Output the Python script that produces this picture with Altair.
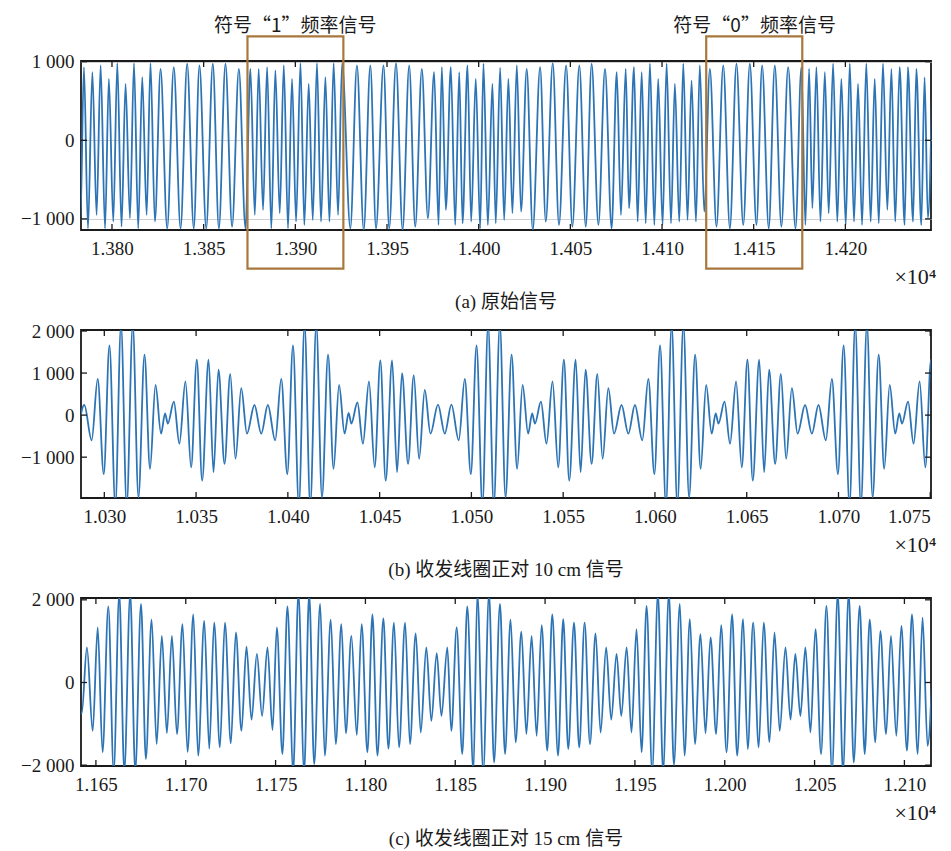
import altair as alt
import pandas as pd

# ---------------- data (sample index, amplitude at local extremes) ----------------
# (a) 原始信号
a_x = [13780.5, 13782.7, 13784.7, 13786.9, 13789.3, 13791.6, 13793.8, 13796.2,
       13798.3, 13800.7, 13802.9, 13805.2, 13807.4, 13809.8, 13812.0, 13814.3,
       13816.5, 13818.9, 13821.0, 13823.4, 13826.5, 13830.1, 13833.7, 13837.4,
       13841.0, 13844.6, 13847.7, 13851.4, 13855.0, 13858.3, 13861.9, 13865.5,
       13869.2, 13872.8, 13875.5, 13877.9, 13880.0, 13882.4, 13884.6, 13886.9,
       13889.1, 13891.5, 13893.7, 13896.0, 13898.2, 13900.4, 13902.8, 13904.9,
       13907.3, 13909.5, 13911.8, 13914.0, 13916.4, 13918.6, 13920.9, 13923.3,
       13925.5, 13930.0, 13933.6, 13937.3, 13940.9, 13944.0, 13948.1, 13951.2,
       13954.9, 13958.5, 13962.1, 13965.4, 13969.0, 13972.3, 13975.7, 13978.1,
       13979.9, 13982.1, 13984.8, 13987.2, 13989.4, 13991.2, 13993.9, 13995.9,
       13998.4, 14000.8, 14002.6, 14005.0, 14007.5, 14009.3, 14011.7, 14013.9,
       14016.2, 14018.4, 14020.8, 14023.1, 14026.2, 14029.5, 14033.5, 14036.6,
       14040.4, 14043.8, 14047.7, 14051.1, 14054.9, 14058.4, 14061.6, 14065.3,
       14068.9, 14072.5, 14075.3, 14077.6, 14080.2, 14082.0, 14084.7, 14086.7,
       14088.9, 14091.1, 14093.4, 14095.8, 14097.9, 14100.3, 14102.5, 14104.9,
       14107.0, 14109.4, 14111.6, 14113.9, 14116.1, 14118.5, 14120.6, 14123.0,
       14126.1, 14129.7, 14133.4, 14137.0, 14140.6, 14144.3, 14147.9, 14151.5,
       14154.6, 14158.2, 14161.5, 14165.1, 14168.8, 14172.8, 14176.0, 14178.2,
       14180.2, 14182.0, 14184.2, 14186.4, 14188.8, 14190.9, 14193.3, 14195.6,
       14197.8, 14200.2, 14202.4, 14204.7, 14206.9, 14209.1, 14211.4, 14213.8,
       14216.0, 14218.2, 14220.5, 14222.9, 14225.1, 14227.2, 14229.6, 14232.3,
       14234.1, 14236.9, 14238.7, 14241.4, 14243.2, 14245.0, 14247.5]
a_y = [900, -1100, 932, -1120, 868, -949, 953, -1120,
       782, -1034, 983, -1098, 718, -991, 983, -1120,
       803, -949, 983, -1034, 910, -1120, 932, -1120,
       974, -1120, 953, -1120, 974, -1120, 974, -1098,
       910, -1120, 910, -949, 910, -885, 932, -1120,
       889, -927, 953, -1120, 782, -1034, 983, -1077,
       718, -1013, 983, -1034, 803, -1034, 983, -949,
       983, -1120, 953, -1141, 953, -1120, 953, -1120,
       983, -1141, 953, -1098, 910, -991, 868, -1077,
       932, -885, 932, -1077, 868, -1055, 953, -1034,
       782, -1120, 974, -1077, 718, -1055, 920, -1013,
       782, -927, 953, -906, 910, -1141, 932, -1034,
       983, -1077, 953, -1098, 953, -1098, 974, -1077,
       910, -1120, 868, -949, 910, -863, 932, -1034,
       868, -1055, 974, -1077, 782, -1077, 974, -1055,
       718, -1034, 974, -1013, 760, -1034, 953, -906,
       910, -1098, 953, -1120, 974, -1077, 974, -1077,
       953, -1120, 953, -1098, 932, -1120, 932, -1077,
       910, -863, 932, -1034, 868, -927, 974, -1034,
       782, -1077, 974, -1034, 718, -1077, 974, -1034,
       782, -1055, 974, -885, 910, -1034, 932, -1077,
       932, -1034, 910, -1077, 800, -991, 900]

# boxes marking one symbol of each frequency in (a)
box_x0 = [13873.9, 14124.1]
box_x1 = [13926.2, 14176.5]
box_top = [1322, 1322]
box_bottom = [-1633, -1633]
box_label = ["符号“1”频率信号", "符号“0”频率信号"]
box_label_x = [13900.0, 14150.5]
box_label_y = [1450, 1450]

# (b) 收发线圈正对 10 cm 信号
b_x = [10285.5, 10289.1, 10293.1,
       10296.4, 10299.7, 10302.8, 10306.0, 10309.1, 10312.2, 10315.5, 10318.6,
       10321.9, 10324.9, 10327.9, 10330.9, 10333.1, 10334.6, 10337.9, 10340.9,
       10344.2, 10347.3, 10350.4, 10353.3, 10356.8, 10359.5, 10362.2, 10365.5,
       10368.6, 10371.5, 10374.6, 10377.7, 10381.8, 10385.5, 10389.1, 10393.1,
       10396.4, 10399.7, 10402.8, 10406.0, 10409.1, 10412.2, 10415.5, 10418.6,
       10421.9, 10424.9, 10427.9, 10430.9, 10433.1, 10434.6, 10437.9, 10440.9,
       10444.2, 10447.3, 10450.4, 10453.3, 10456.8, 10459.5, 10462.2, 10465.5,
       10468.6, 10471.5, 10474.6, 10477.7, 10481.8, 10485.5, 10489.1, 10493.1,
       10496.4, 10499.7, 10502.8, 10506.0, 10509.1, 10512.2, 10515.5, 10518.6,
       10521.9, 10524.9, 10527.9, 10530.9, 10533.1, 10534.6, 10537.9, 10540.9,
       10544.2, 10547.3, 10550.4, 10553.3, 10556.8, 10559.5, 10562.2, 10565.5,
       10568.6, 10571.5, 10574.6, 10577.7, 10581.8, 10585.5, 10589.1, 10593.1,
       10596.4, 10599.7, 10602.8, 10606.0, 10609.1, 10612.2, 10615.5, 10618.6,
       10621.9, 10624.9, 10627.9, 10630.9, 10633.1, 10634.6, 10637.9, 10640.9,
       10644.2, 10647.3, 10650.4, 10653.3, 10656.8, 10659.5, 10662.2, 10665.5,
       10668.6, 10671.5, 10674.6, 10677.7, 10681.8, 10685.5, 10689.1, 10693.1,
       10696.4, 10699.7, 10702.8, 10706.0, 10709.1, 10712.2, 10715.5, 10718.6,
       10721.9, 10724.9, 10727.9, 10730.9, 10733.1, 10734.6, 10737.9, 10740.9,
       10744.2, 10747.3, 10750.4, 10753.3]
b_y = [-440, 240, -600,
       860, -1400, 1660, -2150, 2150, -2150, 2150, -1960,
       1440, -1280, 720, -440, 40, -200, 320, -680,
       800, -1240, 1320, -1560, 1320, -1360, 1080, -1160,
       980, -1040, 640, -440, 240, -440, 240, -600,
       860, -1400, 1660, -2150, 2150, -2150, 2150, -1960,
       1440, -1280, 720, -440, 50, -200, 300, -680,
       800, -1240, 1300, -1560, 1300, -1360, 1000, -1160,
       950, -1040, 600, -440, 250, -440, 250, -600,
       860, -1400, 1660, -2150, 2150, -2150, 2150, -1960,
       1440, -1280, 720, -440, 40, -200, 320, -680,
       800, -1240, 1320, -1560, 1320, -1360, 1080, -1160,
       980, -1040, 640, -440, 240, -440, 240, -600,
       860, -1400, 1660, -2150, 2150, -2150, 2150, -1960,
       1440, -1280, 720, -440, 40, -200, 320, -680,
       800, -1240, 1320, -1560, 1320, -1360, 1080, -1160,
       980, -1040, 640, -440, 240, -440, 240, -600,
       860, -1400, 1660, -2150, 2150, -2150, 2150, -1960,
       1440, -1280, 720, -440, 40, -200, 320, -680,
       800, -1240, 1320, -1560]

# (c) 收发线圈正对 15 cm 信号
c_x = [11639.2, 11642.1, 11645.0, 11648.2, 11651.0, 11653.7, 11656.9, 11659.9,
       11663.0, 11665.8, 11669.1, 11671.9, 11675.1, 11677.8, 11681.0, 11683.8,
       11686.7, 11689.5, 11692.3, 11695.1, 11698.2, 11701.0, 11704.2, 11706.9,
       11710.3, 11713.1, 11715.8, 11719.0, 11721.8, 11725.1, 11727.9, 11731.0,
       11733.8, 11736.6, 11739.6, 11742.5, 11745.5, 11748.3, 11750.7, 11753.8,
       11756.6, 11759.8, 11762.7, 11765.9, 11768.7, 11771.5, 11774.8, 11777.4,
       11780.7, 11783.5, 11786.6, 11789.1, 11792.2, 11795.2, 11797.9, 11801.1,
       11803.9, 11806.7, 11810.0, 11812.8, 11815.9, 11818.7, 11822.1, 11824.8,
       11828.0, 11830.8, 11833.9, 11836.7, 11839.7, 11842.3, 11845.6, 11847.8,
       11850.8, 11853.9, 11856.7, 11860.1, 11862.3, 11865.6, 11868.8, 11871.6,
       11874.9, 11877.7, 11880.8, 11883.6, 11886.8, 11889.6, 11892.5, 11895.3,
       11898.1, 11901.2, 11904.0, 11907.2, 11910.1, 11912.9, 11916.1, 11919.0,
       11922.0, 11925.0, 11928.1, 11930.9, 11934.0, 11936.8, 11939.8, 11942.4,
       11945.4, 11948.1, 11950.9, 11953.7, 11956.5, 11959.6, 11962.8, 11965.7,
       11968.9, 11971.7, 11975.0, 11977.6, 11980.6, 11983.4, 11986.5, 11989.3,
       11992.1, 11995.2, 11998.0, 12001.0, 12004.1, 12006.9, 12010.2, 12012.8,
       12015.8, 12018.9, 12021.7, 12024.9, 12027.7, 12030.6, 12033.8, 12036.6,
       12039.3, 12042.1, 12044.9, 12047.7, 12050.5, 12053.6, 12056.6, 12059.7,
       12062.9, 12065.8, 12069.0, 12071.8, 12075.1, 12077.9, 12080.7, 12083.8,
       12086.6, 12089.8, 12092.5, 12095.5, 12098.3, 12101.4, 12104.2, 12107.4,
       12110.1, 12112.9, 12116.0]
c_y = [700, -750, 850, -1170, 1330, -1690, 1840, -2150,
       2150, -2150, 2150, -2150, 1900, -1850, 1520, -1490,
       1130, -1230, 1130, -1250, 1410, -1680, 1650, -1770,
       1490, -1600, 1450, -1570, 1450, -1470, 1210, -1170,
       870, -900, 690, -810, 850, -1150, 1330, -1730,
       1840, -2150, 2150, -2150, 2150, -1980, 1900, -1770,
       1520, -1490, 1410, -1230, 1130, -1270, 1410, -1690,
       1650, -1770, 1550, -1600, 1450, -1570, 1450, -1490,
       1190, -1210, 850, -930, 710, -810, 850, -1170,
       1330, -1730, 1840, -2150, 2150, -2150, 2150, -1935,
       1900, -1730, 1520, -1450, 1230, -1250, 1130, -1290,
       1390, -1650, 1650, -1770, 1530, -1610, 1450, -1570,
       1450, -1490, 1190, -1210, 850, -900, 690, -810,
       850, -1210, 1290, -1690, 1850, -2150, 2150, -2150,
       2150, -2000, 1900, -1770, 1530, -1490, 1170, -1230,
       1090, -1250, 1390, -1690, 1650, -1770, 1530, -1610,
       1450, -1570, 1450, -1440, 1210, -1170, 850, -900,
       690, -810, 850, -1210, 1290, -1730, 1850, -2150,
       2150, -2150, 2150, -1935, 1850, -1730, 1520, -1450,
       1250, -1250, 1130, -1290, 1370, -1650, 1650, -1730,
       1570, -1530, 800]

# axes
a_xdom = [13783.1, 14246.7]
a_ydom = [-1141, 1009]
a_xticks = [13800, 13850, 13900, 13950, 14000, 14050, 14100, 14150, 14200]
a_yticks = [-1000, 0, 1000]

b_xdom = [10287.3, 10750.4]
b_ydom = [-1971, 2024]
b_xticks = [10300, 10350, 10400, 10450, 10500, 10550, 10600, 10650, 10700, 10750]
b_yticks = [-1000, 0, 1000, 2000]

c_xdom = [11641.7, 12114.8]
c_ydom = [-2020, 2044]
c_xticks = [11650, 11700, 11750, 11800, 11850, 11900, 11950, 12000, 12050, 12100]
c_yticks = [-2000, 0, 2000]

captions = ["(a) 原始信号", "(b) 收发线圈正对 10 cm 信号", "(c) 收发线圈正对 15 cm 信号"]

# ---------------- styling ----------------
SERIF = "Liberation Serif, Noto Sans CJK SC"
CJK = "Noto Sans CJK SC"
BLUE = "#2c74b5"
BROWN = "#a8773c"
INK = "#1a1a1a"
W = 850
YEXPR = ("datum.value == 0 ? '0' : (datum.value < 0 ? '\u2212' : '') + "
         "replace(format(abs(datum.value), ','), ',', ' ')")


def panel(xs, ys, xdom, ydom, xticks, yticks, h, caption, grid=False, extra=None, title_offset=4):
    df = pd.DataFrame({"x": xs, "y": ys})
    xscale = alt.Scale(domain=xdom, nice=False, zero=False)
    yscale = alt.Scale(domain=ydom, nice=False, zero=False)
    xaxis = alt.Axis(
        values=xticks, labelExpr="format(datum.value / 10000, '.3f')",
        ticks=False, domain=False, grid=False, labelPadding=9, labelFlush=True,
        title="×10⁴", titleX=W + 5, titleY=46, titleAlign="right",
        titleBaseline="middle", titleFont=SERIF, titleFontSize=22,
        titleFontWeight="normal", titleColor=INK)
    yaxis = alt.Axis(
        values=yticks, labelExpr=YEXPR, ticks=False, domain=False,
        grid=grid, gridColor="#cfcfcf", gridWidth=1, labelPadding=7, title=None)

    def X(f):
        return alt.X(f, scale=xscale, axis=xaxis)

    def Y(f):
        return alt.Y(f, scale=yscale, axis=yaxis)

    line = alt.Chart(df).mark_line(
        interpolate="monotone", clip=True, color=BLUE, strokeWidth=1.8
    ).encode(x=X("x:Q"), y=Y("y:Q"))
    tx = pd.DataFrame({"x": xticks})
    ty = pd.DataFrame({"y": yticks})
    rule = dict(color=INK, strokeWidth=1.3)
    bottom = alt.Chart(tx).mark_rule(**rule).encode(x=X("x:Q"), y=alt.value(h), y2=alt.value(h - 6))
    top = alt.Chart(tx).mark_rule(**rule).encode(x=X("x:Q"), y=alt.value(0), y2=alt.value(6))
    left = alt.Chart(ty).mark_rule(**rule).encode(y=Y("y:Q"), x=alt.value(0), x2=alt.value(6))
    right = alt.Chart(ty).mark_rule(**rule).encode(y=Y("y:Q"), x=alt.value(W), x2=alt.value(W - 6))
    layers = [line, bottom, top, left, right]
    if extra:
        layers += extra(X, Y)
    return alt.layer(*layers).properties(
        width=W, height=h,
        title=alt.TitleParams(caption, orient="bottom", anchor="middle", offset=title_offset,
                              font=SERIF, fontSize=19, fontWeight="normal", color=INK),
    )


def boxes(X, Y):
    bdf = pd.DataFrame({"x": box_x0, "x1": box_x1, "y": box_top, "y1": box_bottom})
    ldf = pd.DataFrame({"x": box_label_x, "y": box_label_y, "label": box_label})
    rect = alt.Chart(bdf).mark_rect(fillOpacity=0, stroke=BROWN, strokeWidth=2.2).encode(
        x=X("x:Q"), x2="x1:Q", y=Y("y:Q"), y2="y1:Q")
    text = alt.Chart(ldf).mark_text(font=CJK, fontSize=19, color=INK, baseline="middle").encode(
        x=X("x:Q"), y=Y("y:Q"), text="label:N")
    return [rect, text]


pa = panel(a_x, a_y, a_xdom, a_ydom, a_xticks, a_yticks, 169, captions[0], grid=True,
           extra=boxes, title_offset=6)
pb = panel(b_x, b_y, b_xdom, b_ydom, b_xticks, b_yticks, 168, captions[1], title_offset=6)
pc = panel(c_x, c_y, c_xdom, c_ydom, c_xticks, c_yticks, 168, captions[2], title_offset=7)

chart = alt.vconcat(pa, pb, pc, spacing=100, bounds="flush").configure_view(
    stroke=INK, strokeWidth=1.8
).configure_axis(
    labelFont=SERIF, labelFontSize=19, labelColor=INK
).properties(
    padding={"left": 11, "top": 8, "right": 3, "bottom": 0}
)

chart.save("out.html", embed_options={"renderer": "svg", "actions": False})
